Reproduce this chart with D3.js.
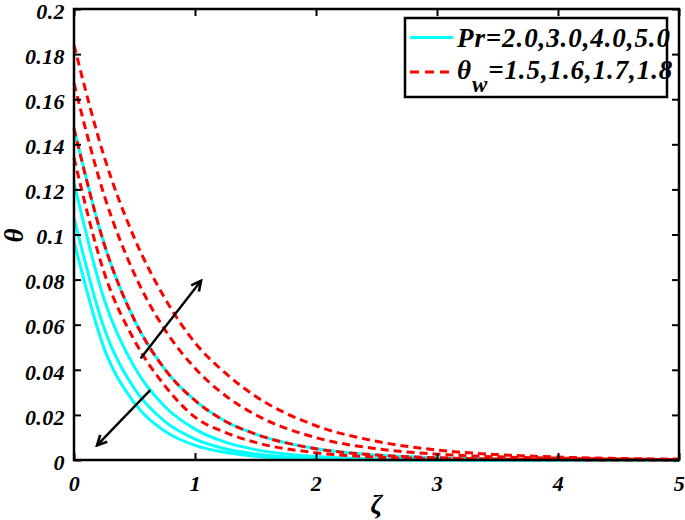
<!DOCTYPE html>
<html>
<head>
<meta charset="utf-8">
<script src="https://cdn.jsdelivr.net/npm/d3@7/dist/d3.min.js"></script>
<style>
  html, body { margin: 0; padding: 0; background: #fff; }
  svg { display: block; }
  text { font-family: "Liberation Serif", "DejaVu Serif", serif; font-weight: bold; font-style: italic; fill: #000; }
</style>
</head>
<body>
<svg id="chart" width="685" height="520"></svg>
<script>
// ---- data ----
const zeta = [0, 0.25, 0.5, 0.75, 1, 1.25, 1.5, 2, 2.5, 3, 3.5, 4, 4.5, 5];

// Pr = 2.0, 3.0, 4.0, 5.0 (solid cyan)
const prLabels = ["2.0", "3.0", "4.0", "5.0"];
const pr2 = [0.147, 0.0957, 0.0620, 0.0403, 0.0264, 0.0172, 0.0115, 0.0050, 0.0022, 0.0010, 0.0004, 0.0002, 0.0001, 0.0000];
const pr3 = [0.123, 0.0711, 0.0411, 0.0237, 0.0137, 0.0079, 0.0046, 0.0015, 0.0005, 0.0002, 0.0001, 0.0000, 0.0000, 0.0000];
const pr4 = [0.1075, 0.0583, 0.0316, 0.0171, 0.0093, 0.0050, 0.0027, 0.0008, 0.0002, 0.0001, 0.0000, 0.0000, 0.0000, 0.0000];
const pr5 = [0.097, 0.0494, 0.0252, 0.0128, 0.0065, 0.0034, 0.0017, 0.0004, 0.0001, 0.0000, 0.0000, 0.0000, 0.0000, 0.0000];

// theta_w = 1.5, 1.6, 1.7, 1.8 (dashed red)
const twLabels = ["1.5", "1.6", "1.7", "1.8"];
const tw15 = [0.134, 0.0830, 0.0530, 0.0330, 0.0190, 0.0122, 0.0078, 0.0032, 0.0013, 0.0005, 0.0002, 0.0001, 0.0000, 0.0000];
const tw16 = [0.147, 0.0957, 0.0620, 0.0403, 0.0264, 0.0172, 0.0115, 0.0050, 0.0022, 0.0010, 0.0004, 0.0002, 0.0001, 0.0000];
const tw17 = [0.167, 0.1173, 0.0824, 0.0579, 0.0407, 0.0286, 0.0201, 0.0099, 0.0050, 0.0026, 0.0014, 0.0008, 0.0004, 0.0002];
const tw18 = [0.184, 0.1344, 0.0983, 0.0718, 0.0520, 0.0386, 0.0283, 0.0152, 0.0083, 0.0044, 0.0024, 0.0013, 0.0007, 0.0004];

const xTicks = [0, 1, 2, 3, 4, 5];
const yTicks = [0, 0.02, 0.04, 0.06, 0.08, 0.1, 0.12, 0.14, 0.16, 0.18, 0.2];

// ---- layout ----
const svg = d3.select("#chart");
const m = { left: 74, right: 6, top: 9, bottom: 60 };
const W = 685, H = 520;
const x = d3.scaleLinear().domain([0, 5]).range([m.left, W - m.right]);
const y = d3.scaleLinear().domain([0, 0.2]).range([H - m.bottom, m.top]);

const line = d3.line()
  .x((d, i) => x(zeta[i]))
  .y(d => y(d))
  .curve(d3.curveMonotoneX);

const plot = svg.append("g");

// cyan curves
[pr2, pr3, pr4, pr5].forEach(s => {
  plot.append("path").attr("d", line(s))
    .attr("fill", "none").attr("stroke", "#00ffff").attr("stroke-width", 3);
});
// red dashed curves
[tw15, tw16, tw17, tw18].forEach(s => {
  plot.append("path").attr("d", line(s))
    .attr("fill", "none").attr("stroke", "#ff0000").attr("stroke-width", 3)
    .attr("stroke-dasharray", "8,5");
});

// ---- axes ----
const tickLen = 7;
const axB = svg.append("g").attr("transform", `translate(0,${y(0)})`)
  .call(d3.axisBottom(x).tickValues(xTicks).tickSizeInner(-tickLen).tickSizeOuter(0).tickPadding(15).tickFormat(d3.format("d")));
const axT = svg.append("g").attr("transform", `translate(0,${y(0.2)})`)
  .call(d3.axisTop(x).tickValues(xTicks).tickSizeInner(-tickLen).tickSizeOuter(0).tickFormat(""));
const axL = svg.append("g").attr("transform", `translate(${x(0)},0)`)
  .call(d3.axisLeft(y).tickValues(yTicks).tickSizeInner(-tickLen).tickSizeOuter(0).tickPadding(9).tickFormat(d => d === 0 ? "0" : String(+d.toFixed(2))));
const axR = svg.append("g").attr("transform", `translate(${x(5)},0)`)
  .call(d3.axisRight(y).tickValues(yTicks).tickSizeInner(-tickLen).tickSizeOuter(0).tickFormat(""));

[axB, axT, axL, axR].forEach(g => {
  g.select(".domain").remove();
  g.selectAll(".tick line").attr("stroke", "#000").attr("stroke-width", 2);
  g.selectAll("text").attr("font-size", 22).attr("letter-spacing", "0.4px")
    .attr("font-family", "Liberation Serif").attr("font-weight", "bold").attr("font-style", "italic").attr("fill", "#000");
});
axL.selectAll("text").attr("dy", "0.42em");

// frame
svg.append("rect")
  .attr("x", x(0)).attr("y", y(0.2))
  .attr("width", x(5) - x(0)).attr("height", y(0) - y(0.2))
  .attr("fill", "none").attr("stroke", "#000").attr("stroke-width", 2.5);

// axis labels
svg.append("text").attr("x", x(2.5)).attr("y", 513).attr("text-anchor", "middle")
  .attr("font-size", 27).text("ζ");
svg.append("text").attr("transform", `translate(23,${y(0.1) + 1}) rotate(-90)`).attr("text-anchor", "middle")
  .attr("font-size", 27).text("θ");

// ---- arrows ----
const defs = svg.append("defs");
defs.append("marker").attr("id", "ah").attr("viewBox", "0 0 12 12").attr("refX", 10).attr("refY", 6)
  .attr("markerWidth", 13).attr("markerHeight", 13).attr("markerUnits", "userSpaceOnUse").attr("orient", "auto")
  .append("path").attr("d", "M1,1.5 L10,6 L1,10.5").attr("fill", "none").attr("stroke", "#000").attr("stroke-width", 2.4);

const arrows = [
  { from: [0.55, 0.045], to: [1.05, 0.0795] },
  { from: [0.63, 0.031], to: [0.19, 0.0065] }
];
arrows.forEach(a => {
  svg.append("line")
    .attr("x1", x(a.from[0])).attr("y1", y(a.from[1]))
    .attr("x2", x(a.to[0])).attr("y2", y(a.to[1]))
    .attr("stroke", "#000").attr("stroke-width", 2.4).attr("marker-end", "url(#ah)");
});

// ---- legend ----
const lg = svg.append("g");
lg.append("rect").attr("x", 405).attr("y", 18).attr("width", 262).attr("height", 79)
  .attr("fill", "#fff").attr("stroke", "#000").attr("stroke-width", 2.5);
lg.append("line").attr("x1", 410).attr("x2", 453).attr("y1", 37.5).attr("y2", 37.5)
  .attr("stroke", "#00ffff").attr("stroke-width", 3);
lg.append("line").attr("x1", 410).attr("x2", 453).attr("y1", 72).attr("y2", 72)
  .attr("stroke", "#ff0000").attr("stroke-width", 3).attr("stroke-dasharray", "9,6");
lg.append("text").attr("x", 457).attr("y", 47).attr("font-size", 27).attr("letter-spacing", "0.9px")
  .text("Pr=" + prLabels.join(","));
const t2 = lg.append("text").attr("x", 457).attr("y", 79).attr("font-size", 27).attr("letter-spacing", "0.9px");
t2.append("tspan").text("θ");
t2.append("tspan").attr("dy", 13).attr("font-size", 23).text("w");
t2.append("tspan").attr("dy", -13).text("=" + twLabels.join(","));
</script>
</body>
</html>
